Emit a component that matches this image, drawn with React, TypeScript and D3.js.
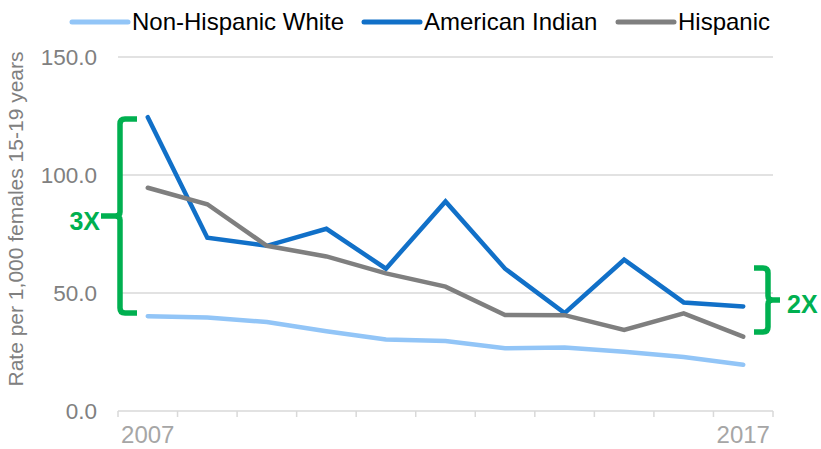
import React from "react";
import * as d3 from "d3";

const years = ["2007","2008","2009","2010","2011","2012","2013","2014","2015","2016","2017"];
const whiteVals = [40.2, 39.6, 37.7, 33.8, 30.3, 29.7, 26.6, 26.9, 25.1, 22.9, 19.6];
const aiVals = [124.5, 73.4, 70.0, 77.2, 60.3, 88.8, 60.3, 41.5, 64.1, 46.0, 44.3];
const hispVals = [94.6, 87.6, 70.0, 65.5, 58.3, 52.7, 40.7, 40.6, 34.4, 41.4, 31.5];
const yTicks = [0, 50, 100, 150];
const shownYears = ["2007", "2017"];

const series = [
  { name: "Non-Hispanic White", values: whiteVals, color: "#92C5F7" },
  { name: "American Indian", values: aiVals, color: "#1170C8" },
  { name: "Hispanic", values: hispVals, color: "#7F7F7F" },
];

export default function App() {
  const W = 821, H = 449;
  const x = d3.scaleBand().domain(years).range([118, 773]);
  const y = d3.scaleLinear().domain([0, 150]).range([411, 57]);
  const cx = (yr: string) => (x(yr) as number) + x.bandwidth() / 2;
  const line = (vals: number[]) =>
    d3.line<number>().x((_, i) => cx(years[i])).y((v) => y(v))(vals) as string;
  const green = "#00B050";
  const legendX = [72, 364, 618];
  const font = "Arial, 'Liberation Sans', sans-serif";

  const bracket = (xEdge: number, top: number, bottom: number, dir: number, arm: number, point: number) => {
    const xv = xEdge + dir * arm;
    const mid = (top + bottom) / 2;
    const r = 5;
    return `M${xEdge},${top} L${xv - dir * r},${top} Q${xv},${top} ${xv},${top + r} L${xv},${mid - 4} Q${xv},${mid} ${xv + dir * 5},${mid} L${xv + dir * point},${mid} M${xv + dir * 5},${mid} Q${xv},${mid} ${xv},${mid + 4} L${xv},${bottom - r} Q${xv},${bottom} ${xv - dir * r},${bottom} L${xEdge},${bottom}`;
  };

  return (
    <svg width={W} height={H} style={{ position: "absolute", left: 0, top: 0, fontFamily: font }}>
      {yTicks.filter((t) => t > 0).map((t) => (
        <line key={t} x1={118} x2={773} y1={y(t)} y2={y(t)} stroke="#D9D9D9" strokeWidth={1.5} />
      ))}
      <line x1={118} x2={773} y1={y(0)} y2={y(0)} stroke="#D9D9D9" strokeWidth={1.5} />
      {years.map((yr) => (
        <line key={yr} x1={x(yr) as number} x2={x(yr) as number} y1={y(0)} y2={y(0) + 6} stroke="#D9D9D9" strokeWidth={1.5} />
      ))}
      <line x1={773} x2={773} y1={y(0)} y2={y(0) + 6} stroke="#D9D9D9" strokeWidth={1.5} />
      {yTicks.map((t) => (
        <text key={t} x={97} y={y(t) + 8} textAnchor="end" fontSize={22.5} fill="#808080">
          {t.toFixed(1)}
        </text>
      ))}
      {shownYears.map((yr) => (
        <text key={yr} x={cx(yr)} y={443} textAnchor="middle" fontSize={24} fill="#A6A6A6">
          {yr}
        </text>
      ))}
      <text
        transform={`translate(23,219) rotate(-90)`}
        textAnchor="middle"
        fontSize={21}
        fill="#808080"
      >
        Rate per 1,000 females 15-19 years
      </text>
      {series.map((s) => (
        <path key={s.name} d={line(s.values)} fill="none" stroke={s.color} strokeWidth={4.5} strokeLinecap="round" strokeLinejoin="miter" />
      ))}
      {series.map((s, i) => (
        <g key={s.name}>
          <line x1={legendX[i]} x2={legendX[i] + 56} y1={22} y2={22} stroke={s.color} strokeWidth={5} strokeLinecap="round" />
          <text x={legendX[i] + 60} y={30} fontSize={24} fill="#000">{s.name}</text>
        </g>
      ))}
      <path d={bracket(137, 119, 313, -1, 17, 19)} fill="none" stroke={green} strokeWidth={5.5} />
      <text x={100} y={230} textAnchor="end" fontSize={25} fontWeight="bold" fill={green}>3X</text>
      <path d={bracket(754, 268, 332, 1, 14, 12)} fill="none" stroke={green} strokeWidth={5.5} />
      <text x={787} y={313} fontSize={25} fontWeight="bold" fill={green}>2X</text>
    </svg>
  );
}
